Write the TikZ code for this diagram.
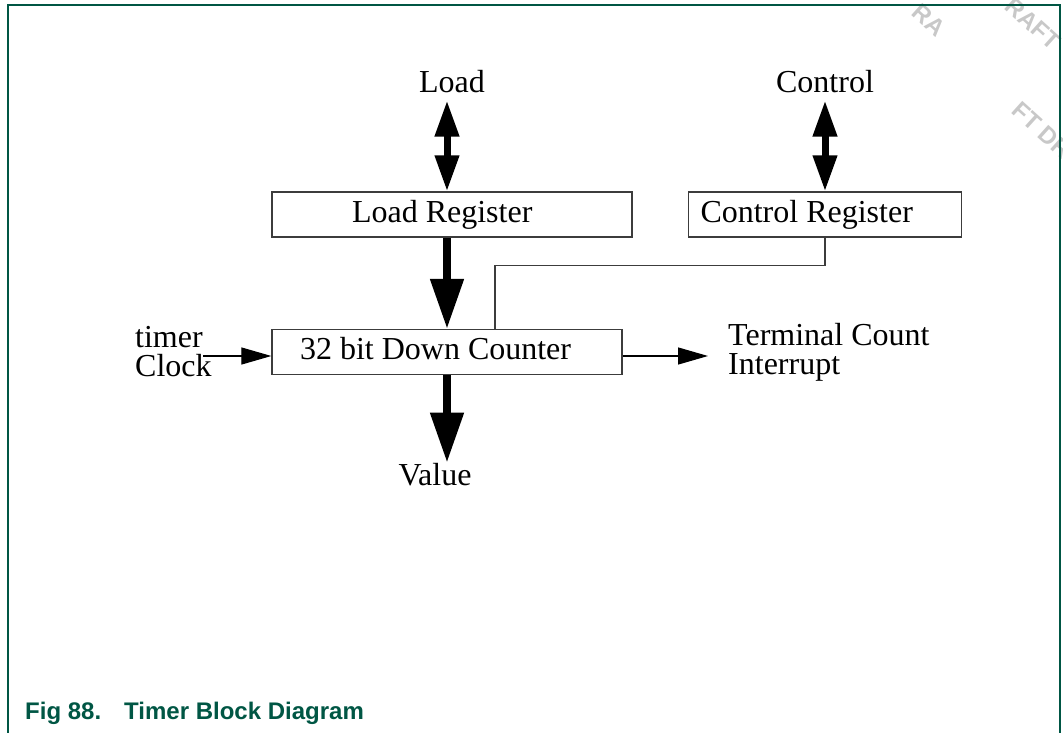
\documentclass[tikz,border=0pt]{standalone}
\usepackage{fontspec}
\setmainfont{Liberation Serif}
\newfontfamily\capfont{Liberation Sans}
\usepackage{xcolor}
\definecolor{framegreen}{RGB}{0, 86, 68}
\definecolor{boxline}{RGB}{60, 60, 60}
\definecolor{wmgray}{RGB}{200, 200, 200}
\usepackage{tikz}
\usetikzlibrary{arrows.meta,calc}

\begin{document}
\begin{tikzpicture}[
  x=1pt, y=-1pt,
  frame/.style={draw=framegreen, line width=2pt},
  regbox/.style={draw=boxline, line width=1.3pt, minimum height=45pt, inner ysep=0pt, text height=22pt, text depth=7pt, align=flush left, font=\fontsize{32}{29}\selectfont},
  lbl/.style={inner sep=0pt, font=\fontsize{32}{29}\selectfont},
  watermark/.style={text=wmgray, font=\capfont\bfseries\fontsize{24}{24}\selectfont, rotate=-42, inner sep=0pt},
  dblarrow/.style={{Triangle[length=36pt,width=23pt]}-{Triangle[length=36pt,width=23pt]}, line width=7pt},
  busarrow/.style={-{Triangle[length=50pt,width=32pt]}, line width=8pt},
  sigarrow/.style={-{Triangle[length=30pt,width=17pt]}, line width=1.2pt},
  ctlline/.style={draw=boxline, line width=1.2pt}
]
\useasboundingbox (0,0) rectangle (1063,733);

% Frame and watermark
\begin{scope}
  \clip (0,0) rectangle (1063,733);
  \node[watermark] (wm1) at (929,20) {RA};
  \node[watermark] (wm2) at (1033,24) {RAFT};
  \node[watermark] (wm3) at (1042,130) {FT DR};
  \draw[frame] (8,740) -- (8,5) -- (1060,5) -- (1060,740);
\end{scope}

% Registers and counter
\node[regbox, text width=200pt, inner xsep=80pt] (loadreg) at (452,214.5) {Load Register};
\node[regbox, text width=249pt, inner xsep=12pt] (ctrlreg) at (825,214.5) {Control Register};
\node[regbox, text width=294pt, inner xsep=28pt] (counter) at (447,352) {32 bit Down Counter};

% Labels
\node[lbl, anchor=base] (load) at (452,93) {Load};
\node[lbl, anchor=base] (ctrl) at (825,93) {Control};
\node[lbl, anchor=base] (value) at (435,485) {Value};
\node[lbl, anchor=west, align=left] (clk) at (135,352) {timer\\Clock};
\node[lbl, anchor=west, align=left] (term) at (728,352) {Terminal Count\\Interrupt};
\coordinate (clkin) at (203,356);

% Caption
\node[inner sep=0pt, anchor=base west, text=framegreen, font=\capfont\bfseries\fontsize{24}{28}\selectfont] (caption) at (25,719) {Fig 88.\hspace{23pt}Timer Block Diagram};

% Connections
\draw[dblarrow, shorten <=7pt] (counter.north |- load.south) -- (counter.north |- loadreg.north);
\draw[dblarrow, shorten <=7pt] (ctrl.south) -- (ctrl.south |- ctrlreg.north);
\draw[busarrow] (counter.north |- loadreg.south) -- (counter.north);
\draw[busarrow] (counter.south) -- (counter.south |- value.north);
\draw[ctlline] (ctrlreg.south) -- ++(0,28) -| ([xshift=48pt]counter.north);
\draw[sigarrow] (clkin) -- (clkin -| counter.west);
\draw[sigarrow, shorten >=20pt] ([yshift=-4pt]counter.east) -- ([yshift=-4pt]counter.east -| term.west);

\end{tikzpicture}
\end{document}
